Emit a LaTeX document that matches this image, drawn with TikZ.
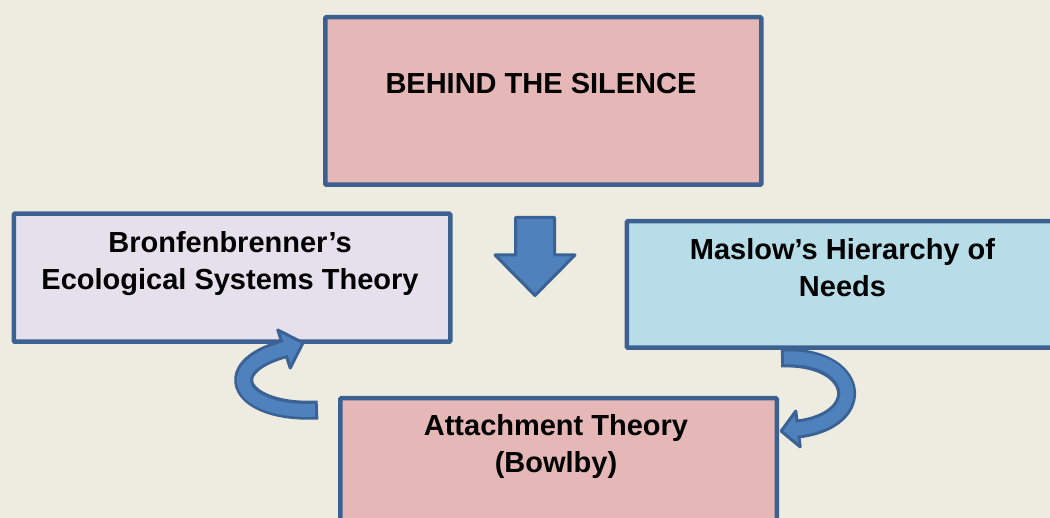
\documentclass[tikz,border=0pt]{standalone}
\usepackage{fontspec}
\setmainfont{Liberation Sans}
\definecolor{bg}{HTML}{EEECE1}
\definecolor{boxline}{HTML}{3C6190}
\definecolor{arrfill}{HTML}{4F81BD}
\definecolor{arrline}{HTML}{3A6294}
\definecolor{pinkbox}{HTML}{E5B8B7}
\definecolor{lavbox}{HTML}{E5E0EC}
\definecolor{bluebox}{HTML}{B7DDE8}
\begin{document}
\begin{tikzpicture}[x=1pt,y=-1pt,
  box/.style={draw=boxline, line width=4.5pt, rounded corners=1pt, inner sep=0pt, anchor=north west},
  lbl/.style={font=\fontsize{29}{37}\selectfont\bfseries, align=center, inner sep=0pt, text=black, anchor=base},
  band/.style={line width=19pt, draw=arrline},
  bandin/.style={line width=13pt, draw=arrfill},
  headshape/.style={fill=arrfill, draw=arrline, line width=3pt, line join=round}]
\useasboundingbox (0,0) rectangle (1050,518);
\clip (0,0) rectangle (1050,518);
\fill[bg] (0,0) rectangle (1050,518);

% boxes
\node[box, fill=pinkbox, minimum width=436pt, minimum height=167.5pt] (top) at (323,15) {};
\node[box, fill=lavbox, minimum width=436.5pt, minimum height=128pt] (left) at (11.5,211.5) {};
\node[box, fill=bluebox, minimum width=436.5pt, minimum height=126.5pt] (right) at (624.5,219) {};
\node[box, fill=pinkbox, minimum width=436.5pt, minimum height=134pt] (bottom) at (338,396) {};

% labels (anchor=base is the baseline of the last line)
\node[lbl] (ttop) at (541,93.3) {BEHIND THE SILENCE};
\node[lbl] (tleft) at (230,289.5) {Bronfenbrenner’s\\Ecological Systems Theory};
\node[lbl] (tright) at (842.5,296.3) {Maslow’s Hierarchy of\\Needs};
\node[lbl] (tbottom) at (556,473) {Attachment Theory\\(Bowlby)};

% down arrow
\draw[headshape] (515.5,217.5) -- (554.5,217.5) -- (554.5,255) -- (575,255)
  -- (535,295.5) -- (495,255) -- (515.5,255) -- cycle;

% left curved arrow (bottom -> left)
\coordinate (l0) at (318,410);
\coordinate (l1) at (284,349);
\draw[band] (l0) .. controls (240,414) and (215,368) .. (l1);
\draw[bandin, shorten <=3pt] (l0) .. controls (240,414) and (215,368) .. (l1);
\draw[headshape] (277.8,330) -- (303,342.8) -- (290.2,368) -- cycle;
\draw[bandin] (280.2,350.2) -- (286.9,348.1);

% right curved arrow (right -> bottom)
\coordinate (r0) at (781,358);
\coordinate (r1) at (798,429);
\draw[band] (r0) .. controls (860,355) and (870,420) .. (r1);
\draw[bandin, shorten <=3pt] (r0) .. controls (860,355) and (870,420) .. (r1);
\draw[headshape] (795.8,411.1) -- (781.1,431.1) -- (800.2,446.9) -- cycle;
\draw[bandin] (802,428.5) -- (795,429.4);
\end{tikzpicture}
\end{document}
